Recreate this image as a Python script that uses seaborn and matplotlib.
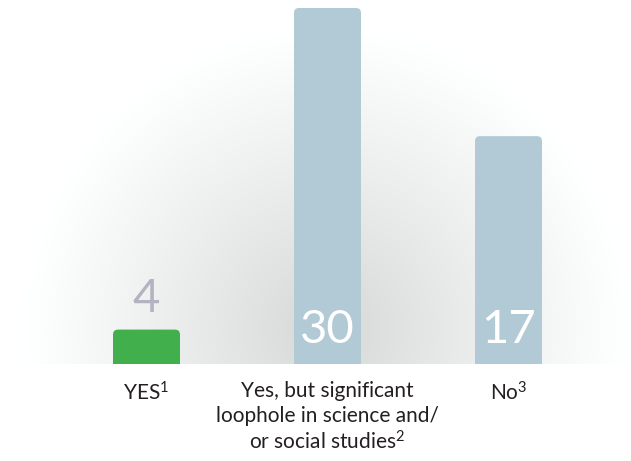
import numpy as np
import pandas as pd
import matplotlib
matplotlib.use("Agg")
import matplotlib.pyplot as plt
from matplotlib.patches import FancyBboxPatch
import seaborn as sns

# ---- data ----
categories = ["YES$^1$", "Yes, but significant\nloophole in science and/\nor social studies$^2$", "No$^3$"]
value_labels = [4, 30, 17]
bar_heights = [2.9, 30, 19.2]   # heights as drawn in the picture
bar_colors = ["#41af4b", "#b1cad6", "#b1cad6"]

sns.set_style("white")
plt.rcParams["font.family"] = ["Lato", "DejaVu Sans"]
plt.rcParams["mathtext.fontset"] = "custom"
plt.rcParams["mathtext.rm"] = "Lato"
plt.rcParams["mathtext.it"] = "Lato"
plt.rcParams["mathtext.default"] = "rm"

W, H = 631, 461
fig = plt.figure(figsize=(W / 100, H / 100), dpi=100)
base_px = 364
ax = fig.add_axes([0, (H - base_px) / H, 1, base_px / H])

px_per_x = 181.0
px_per_y = 356.0 / 30
x0_px = 146.5
xlim = (-x0_px / px_per_x, (W - x0_px) / px_per_x)
ylim = (0, base_px / px_per_y)

# radial background
cx_px, cy_px, R = 327.0, 330.0, 305.0
xs = np.linspace(xlim[0], xlim[1], 632)
ys = np.linspace(ylim[0], ylim[1], 365)
XX, YY = np.meshgrid(xs, ys)
px = x0_px + XX * px_per_x
py = base_px - YY * px_per_y
r = np.sqrt((px - cx_px) ** 2 + (py - cy_px) ** 2) / R
g = np.clip(0.835 + 0.165 * np.clip(r, 0, 1) ** 0.9, 0, 1)
img = np.dstack([g, g + 0.004 * (r < 1), g + 0.004 * (r < 1)])
img = np.clip(img, 0, 1)
ax.imshow(img, extent=[xlim[0], xlim[1], ylim[0], ylim[1]], origin="lower",
          aspect="auto", zorder=0, interpolation="bilinear")

df = pd.DataFrame({"cat": categories, "h": bar_heights})
sns.barplot(data=df, x="cat", y="h", hue="cat", palette=bar_colors, legend=False,
            width=67 / 181, ax=ax, zorder=2, saturation=1)

rad = 5.0 / px_per_x
aspect = (1 / px_per_y) / (1 / px_per_x)
for p, c in zip(list(ax.patches), bar_colors):
    x, y = p.get_x(), p.get_y()
    w, h = p.get_width(), p.get_height()
    p.set_visible(False)
    fb = FancyBboxPatch((x, y - 1), w, h + 1,
                        boxstyle=f"round,pad=0,rounding_size={rad}",
                        mutation_aspect=aspect, fc=c, ec="none", zorder=3)
    ax.add_patch(fb)

ax.set_xlim(*xlim)
ax.set_ylim(*ylim)
ax.axis("off")

# value labels
for i, (v, h) in enumerate(zip(value_labels, bar_heights)):
    if h < 8:
        ax.text(i, h + 1.45, str(v), ha="center", va="baseline", fontsize=34,
                color="#b5b3c1", zorder=4)
    else:
        ax.text(i, 1.77, str(v), ha="center", va="baseline", fontsize=34,
                color="white", zorder=4)

# category labels
for i, c in enumerate(categories):
    ax.text(i, -1.45, c, ha="center", va="top", fontsize=15, color="#231f20",
            linespacing=1.27, clip_on=False)

fig.savefig("out.png", dpi=100, facecolor="white")
